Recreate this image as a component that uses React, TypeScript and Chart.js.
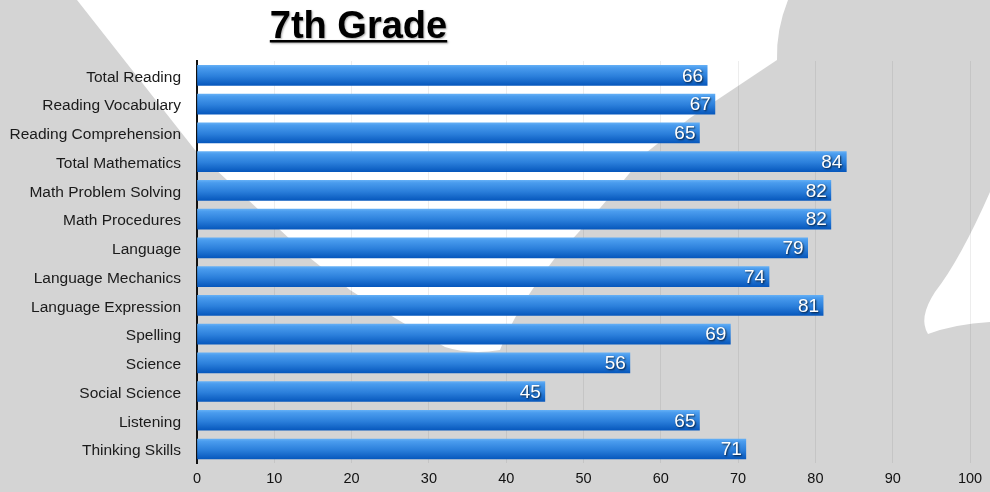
import React, { useEffect, useRef } from "react";
import { Chart, registerables } from "chart.js";

Chart.register(...registerables);

const categories = [
  "Total Reading",
  "Reading Vocabulary",
  "Reading Comprehension",
  "Total Mathematics",
  "Math Problem Solving",
  "Math Procedures",
  "Language",
  "Language Mechanics",
  "Language Expression",
  "Spelling",
  "Science",
  "Social Science",
  "Listening",
  "Thinking Skills",
];
const scores = [66, 67, 65, 84, 82, 82, 79, 74, 81, 69, 56, 45, 65, 71];
const axisMin = 0;
const axisMax = 100;
const axisStep = 10;
const titleText = "7th Grade";

const FONT = "'Liberation Sans', Arial, sans-serif";

const bgPlugin = {
  id: "bgShapes",
  beforeDraw(chart: any) {
    const ctx = chart.ctx;
    const w = chart.width;
    const h = chart.height;
    ctx.save();
    ctx.fillStyle = "#d4d4d4";
    ctx.fillRect(0, 0, w, h);
    ctx.fillStyle = "#ffffff";
    ctx.beginPath();
    ctx.moveTo(77, 0);
    ctx.lineTo(788, 0);
    ctx.quadraticCurveTo(776, 30, 777, 60);
    ctx.lineTo(690, 118);
    ctx.lineTo(647, 152);
    ctx.quadraticCurveTo(600, 210, 555, 258);
    ctx.quadraticCurveTo(515, 310, 500, 350);
    ctx.quadraticCurveTo(470, 355, 445, 347);
    ctx.quadraticCurveTo(400, 322, 350, 290);
    ctx.lineTo(310, 258);
    ctx.lineTo(195, 150);
    ctx.closePath();
    ctx.fill();

    ctx.beginPath();
    ctx.moveTo(990, 192);
    ctx.quadraticCurveTo(960, 260, 935, 292);
    ctx.quadraticCurveTo(918, 318, 928, 334);
    ctx.quadraticCurveTo(955, 324, 990, 322);
    ctx.closePath();
    ctx.fill();

    // title
    ctx.font = `bold 38px ${FONT}`;
    ctx.textAlign = "center";
    ctx.textBaseline = "alphabetic";
    ctx.shadowColor = "rgba(0,0,0,0.35)";
    ctx.shadowBlur = 2;
    ctx.shadowOffsetX = 1;
    ctx.shadowOffsetY = 1;
    ctx.fillStyle = "#000";
    const cx = 358.5;
    ctx.fillText(titleText, cx, 38);
    const tw = ctx.measureText(titleText).width;
    ctx.fillRect(cx - tw / 2, 40, tw, 2.5);
    ctx.restore();
  },
};

const labelPlugin = {
  id: "barLabels",
  afterDatasetsDraw(chart: any) {
    const ctx = chart.ctx;
    const meta = chart.getDatasetMeta(0);
    ctx.save();
    ctx.font = `19px ${FONT}`;
    ctx.textAlign = "right";
    ctx.textBaseline = "middle";
    ctx.fillStyle = "#ffffff";
    ctx.shadowColor = "rgba(0,0,0,0.75)";
    ctx.shadowBlur = 2;
    ctx.shadowOffsetX = 1;
    ctx.shadowOffsetY = 1;
    meta.data.forEach((el: any, i: number) => {
      const v = chart.data.datasets[0].data[i];
      ctx.fillText(String(v), el.x - 4, el.y + 1);
    });
    ctx.restore();
  },
};

export default function App() {
  const ref = useRef<HTMLCanvasElement>(null);
  useEffect(() => {
    document.body.style.margin = "0";
    const canvas = ref.current!;
    const chart = new Chart(canvas, {
      type: "bar",
      data: {
        labels: categories,
        datasets: [
          {
            data: scores,
            barThickness: 20,
            borderWidth: 0,
            borderSkipped: false,
            backgroundColor: (c: any) => {
              const ch = c.chart;
              const ys = ch.scales?.y;
              if (!ys || c.dataIndex === undefined) return "#2f86de";
              const yc = ys.getPixelForValue(c.dataIndex);
              if (!isFinite(yc)) return "#2f86de";
              const g = ch.ctx.createLinearGradient(0, yc - 10, 0, yc + 10);
              g.addColorStop(0, "#62aef5");
              g.addColorStop(0.12, "#4a9cee");
              g.addColorStop(0.55, "#2b7fdb");
              g.addColorStop(1, "#0758bd");
              return g;
            },
          },
        ],
      },
      options: {
        indexAxis: "y",
        responsive: false,
        animation: false,
        layout: { padding: { top: 61, right: 20, left: 0, bottom: 0 } },
        plugins: {
          legend: { display: false },
          title: { display: false },
          tooltip: { enabled: false },
        },
        scales: {
          x: {
            min: axisMin,
            max: axisMax,
            ticks: {
              stepSize: axisStep,
              color: "#111",
              font: { family: FONT, size: 14.5 },
              padding: 7,
            },
            grid: { color: "rgba(0,0,0,0.07)", drawTicks: false },
            border: { display: false },
            afterFit: (s: any) => {
              s.height = 28.6;
            },
          },
          y: {
            ticks: {
              color: "#1a1a1a",
              font: { family: FONT, size: 15.5 },
              padding: 16,
              labelOffset: 2,
            },
            grid: { display: false, drawTicks: false },
            border: { display: true, color: "#111", width: 2 },
            afterFit: (s: any) => {
              s.width = 197;
            },
          },
        },
      },
      plugins: [bgPlugin, labelPlugin],
    } as any);
    return () => chart.destroy();
  }, []);
  return (
    <div style={{ width: 990, height: 492 }}>
      <canvas ref={ref} width={990} height={492} style={{ display: "block" }} />
    </div>
  );
}
